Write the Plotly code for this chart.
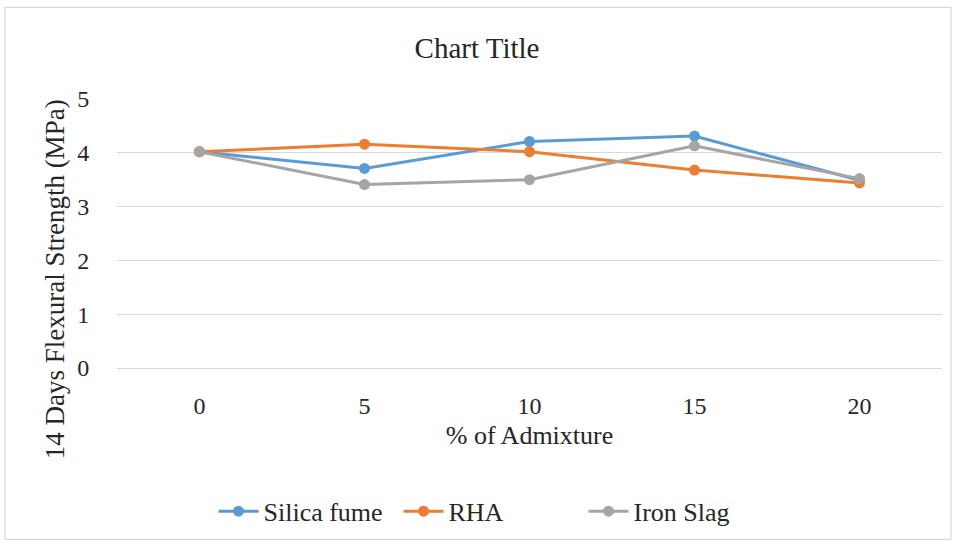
import plotly.graph_objects as go

# Flexural strength at 14 days vs. admixture percentage
admixture = ["0", "5", "10", "15", "20"]
silica_fume = [4.02, 3.71, 4.21, 4.31, 3.49]
rha = [4.02, 4.16, 4.02, 3.68, 3.44]
iron_slag = [4.02, 3.41, 3.50, 4.13, 3.52]

series = [
    ("Silica fume", silica_fume, "#5B9BD5"),
    ("RHA", rha, "#ED7D31"),
    ("Iron Slag", iron_slag, "#A5A5A5"),
]

FONT = "Liberation Serif"
TEXT = "#262626"

# plot area geometry (px)
L, R, T, B = 117, 12, 99, 176
PW, PH = 954 - L - R, 545 - T - B

fig = go.Figure()
for name, vals, color in series:
    fig.add_trace(go.Scatter(
        x=admixture, y=vals, name=name, mode="lines+markers",
        line=dict(color=color, width=3),
        marker=dict(color=color, size=11),
    ))

fig.update_layout(
    width=954, height=545,
    margin=dict(l=L, r=R, t=T, b=B),
    paper_bgcolor="white", plot_bgcolor="white",
    font=dict(family=FONT, size=24, color=TEXT),
    title=dict(text="Chart Title", x=0.5, xanchor="center", y=0.913, yanchor="middle",
               font=dict(family=FONT, size=29, color=TEXT)),
    showlegend=True,
    legend=dict(orientation="h", x=(491 - L) / PW, xanchor="center", y=-0.527, yanchor="middle",
                font=dict(family=FONT, size=26, color=TEXT), itemwidth=40,
                entrywidth=130, entrywidthmode="pixels"),
    xaxis=dict(
        type="category", range=[-0.5, 4.5], showgrid=False,
        showline=True, linecolor="#D9D9D9", linewidth=1,
        ticks="outside", ticklen=16, tickcolor="rgba(0,0,0,0)",
        title=dict(text="% of Admixture", standoff=8, font=dict(family=FONT, size=26, color=TEXT)),
        zeroline=False,
    ),
    yaxis=dict(
        range=[0, 5], dtick=1, showgrid=True, gridcolor="#D9D9D9", gridwidth=1,
        zeroline=False, showline=False,
        ticks="outside", ticklen=22, tickcolor="rgba(0,0,0,0)",
    ),
    annotations=[dict(
        text="14 Days Flexural Strength (MPa)", textangle=-90, showarrow=False,
        xref="paper", yref="paper", x=(55 - L) / PW, y=(369 - 280) / PH,
        xanchor="center", yanchor="middle",
        font=dict(family=FONT, size=27, color=TEXT),
    )],
    shapes=[dict(type="rect", xref="paper", yref="paper",
                 x0=(5 - L) / PW, x1=(951 - L) / PW,
                 y0=(369 - 541) / PH, y1=(369 - 7) / PH,
                 line=dict(color="#D0D0D0", width=1), layer="below")],
)

fig.write_html("out.html")
